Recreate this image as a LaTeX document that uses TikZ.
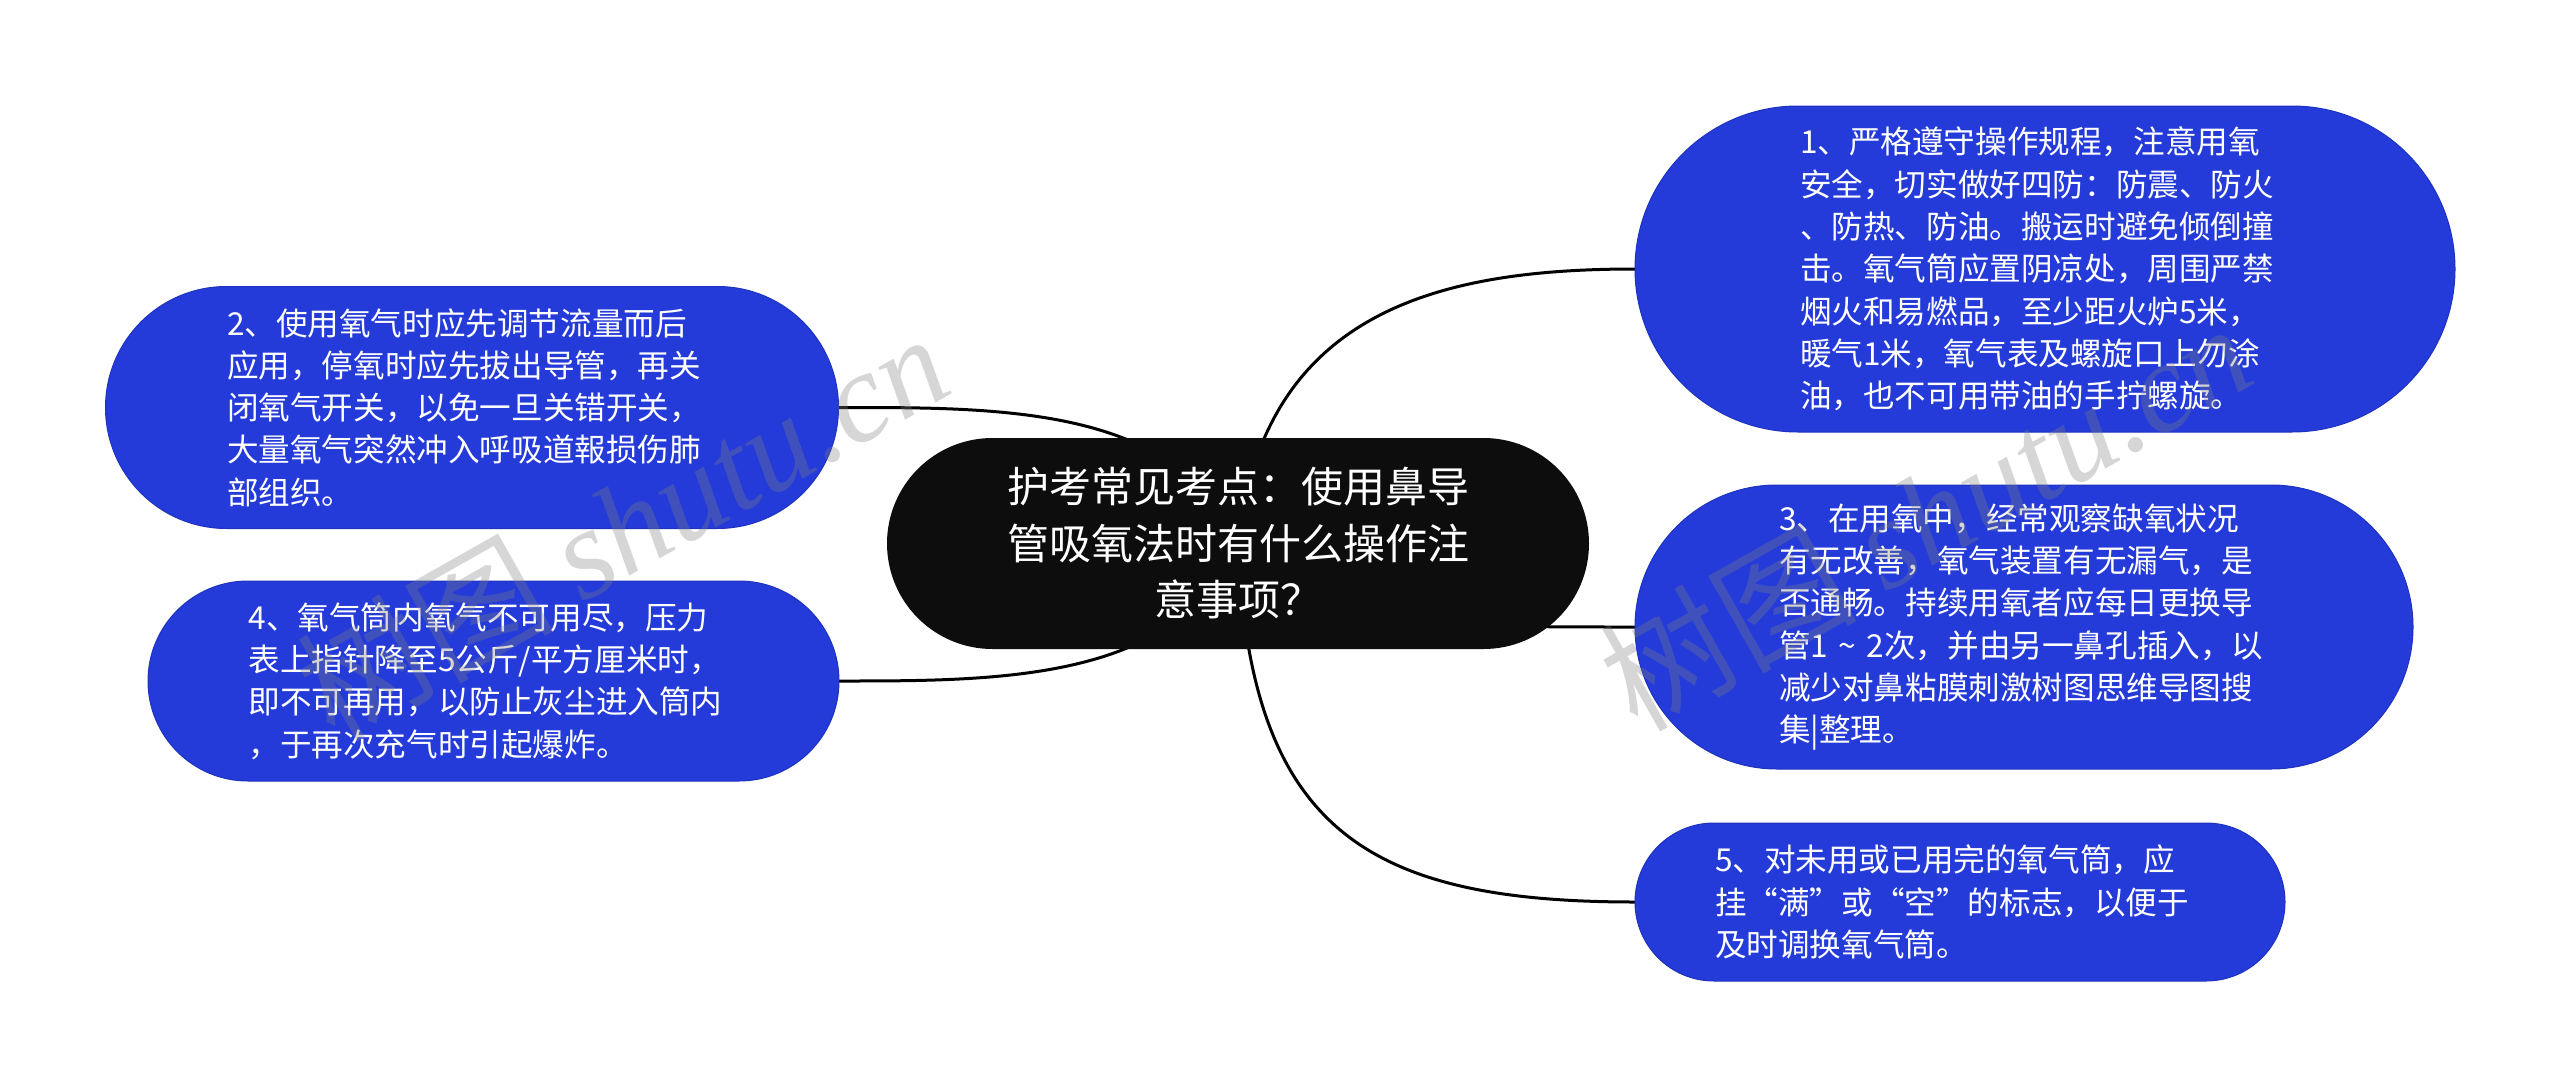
\documentclass[tikz,border=0pt]{standalone}
\usepackage{fontspec}
\setmainfont{Noto Sans CJK SC}
\newfontfamily\markfont{Liberation Serif}
\usetikzlibrary{positioning,shapes.misc,backgrounds}
\definecolor{leafblue}{RGB}{36,59,217}
\definecolor{leafedge}{RGB}{30,50,190}
\definecolor{rootblack}{RGB}{13,13,13}

\begin{document}
\begin{tikzpicture}
[x=1pt,y=1pt,
 every node/.style={rounded rectangle,inner sep=0pt,outer sep=0pt,text=white},
 root/.style={fill=rootblack,text width=464pt,align=center,font=\fontsize{42}{56.5}\selectfont},
 leaf/.style={fill=leafblue,draw=leafedge,line width=1pt,text width=490pt,align=left,font=\fontsize{31.6}{42.3}\selectfont},
 link/.style={black,line width=3pt},
 wmark/.style={rectangle,text=black!50,opacity=.32,rotate=29.5,font=\fontsize{128}{128}\selectfont}]
\useasboundingbox (0,0) rectangle (2560,-1087);
\node[root,minimum width=702pt,minimum height=211pt] (root) at (1238,-543.5)
  {护考常见考点：使用鼻导\\管吸氧法时有什么操作注\\意事项？};
\node[leaf,minimum width=820pt,minimum height=326pt] (n1) [on grid,above right=274.5pt and 807pt of root]
  {1、严格遵守操作规程，注意用氧\\安全，切实做好四防：防震、防火\\、防热、防油。搬运时避免倾倒撞\\击。氧气筒应置阴凉处，周围严禁\\烟火和易燃品，至少距火炉5米，\\暖气1米，氧气表及螺旋口上勿涂\\油，也不可用带油的手拧螺旋。};
\node[leaf,minimum width=733pt,minimum height=242pt] (n2) [on grid,above left=136pt and 766pt of root]
  {2、使用氧气时应先调节流量而后\\应用，停氧时应先拔出导管，再关\\闭氧气开关，以免一旦关错开关，\\大量氧气突然冲入呼吸道報损伤肺\\部组织。};
\node[leaf,minimum width=778pt,minimum height=284pt] (n3) [on grid,below right=83.5pt and 786pt of root]
  {3、在用氧中，经常观察缺氧状况\\有无改善，氧气装置有无漏气，是\\否通畅。持续用氧者应每日更换导\\管1 \textasciitilde{} 2次，并由另一鼻孔插入，以\\减少对鼻粘膜刺激树图思维导图搜\\集|整理。};
\node[leaf,minimum width=691pt,minimum height=200pt] (n4) [on grid,below left=137.5pt and 744.5pt of root]
  {4、氧气筒内氧气不可用尽，压力\\表上指针降至5公斤/平方厘米时，\\即不可再用，以防止灰尘进入筒内\\，于再次充气时引起爆炸。};
\node[leaf,minimum width=650pt,minimum height=158pt] (n5) [on grid,below right=358.5pt and 722pt of root]
  {5、对未用或已用完的氧气筒，应\\挂“满”或“空”的标志，以便于\\及时调换氧气筒。};
\begin{scope}[on background layer]
\draw[link] (root.center) .. controls +(25,233) and +(-195,0) .. (n1.west);
\draw[link] (root.center) .. controls +(-60,138) and +(161,0) .. (n2.east);
\draw[link] (root.center) .. controls +(60,-84) and +(-200,0) .. (n3.west);
\draw[link] (root.center) .. controls +(-60,-138) and +(161,0) .. (n4.east);
\draw[link] (root.center) .. controls +(12,-285) and +(-270,0) .. (n5.west);
\end{scope}
\node[wmark] (wmL) at (622,-525) {树图 {\markfont\itshape shutu.cn}};
\node[wmark] (wmR) at (1925,-515) {树图 {\markfont\itshape shutu.cn}};
\end{tikzpicture}
\end{document}
